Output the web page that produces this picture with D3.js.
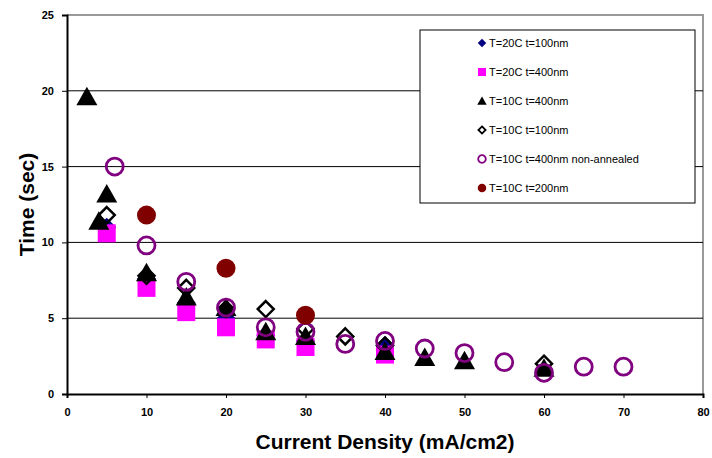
<!DOCTYPE html>
<html>
<head>
<meta charset="utf-8">
<script src="https://cdn.jsdelivr.net/npm/d3@7"></script>
<style>
  body { margin: 0; background: #fff; }
  text { font-family: "Liberation Sans", Arial, sans-serif; }
</style>
</head>
<body>
<svg id="chart" width="712" height="458"></svg>
<script>
// series data [current density, time]
const s20c100 = [[5, 11.0], [10, 7.6], [15, 6.0], [20, 5.0], [25, 3.9], [30, 3.5], [40, 3.2]];
const s20c400 = [[5, 10.6], [10, 7.0], [15, 5.4], [20, 4.4], [25, 3.6], [30, 3.1], [40, 2.6]];
const s10c400 = [[2.5, 19.6], [4, 11.4], [5, 13.2], [10, 8.0], [15, 6.4], [20, 5.7], [25, 4.1], [30, 3.8], [40, 2.8], [45, 2.4], [50, 2.2], [60, 1.7]];
const s10c100 = [[5, 11.8], [10, 7.8], [15, 7.0], [20, 5.6], [25, 5.6], [30, 4.3], [35, 3.8], [40, 3.2], [60, 2.0]];
const s10c400na = [[6, 15.0], [10, 9.8], [15, 7.4], [20, 5.7], [25, 4.4], [30, 4.1], [35, 3.3], [40, 3.5], [45, 3.0], [50, 2.7], [55, 2.1], [60, 1.4], [65, 1.8], [70, 1.8]];
const s10c200 = [[10, 11.8], [20, 8.3], [30, 5.2]];

const seriesNames = ["T=20C t=100nm", "T=20C t=400nm", "T=10C t=400nm", "T=10C t=100nm", "T=10C t=400nm non-annealed", "T=10C t=200nm"];
const xTicks = [0, 10, 20, 30, 40, 50, 60, 70, 80];
const yTicks = [0, 5, 10, 15, 20, 25];

const series = [
  { name: seriesNames[0], data: s20c100, shape: "diamond", fill: "#000080", stroke: "none" },
  { name: seriesNames[1], data: s20c400, shape: "square", fill: "#ff00ff", stroke: "none" },
  { name: seriesNames[2], data: s10c400, shape: "triangle", fill: "#000", stroke: "none" },
  { name: seriesNames[3], data: s10c100, shape: "diamond", fill: "none", stroke: "#000" },
  { name: seriesNames[4], data: s10c400na, shape: "circle", fill: "none", stroke: "#800080" },
  { name: seriesNames[5], data: s10c200, shape: "circle", fill: "#800000", stroke: "none" }
];

const svg = d3.select("#chart"),
  margin = { top: 15, right: 9, bottom: 64, left: 67 },
  width = +svg.attr("width") - margin.left - margin.right,
  height = +svg.attr("height") - margin.top - margin.bottom;

const x = d3.scaleLinear().domain([0, 80]).range([0, width]),
  y = d3.scaleLinear().domain([0, 25]).range([height, 0]);

const g = svg.append("g").attr("transform", "translate(" + margin.left + "," + margin.top + ")");

// plot area border (top / right grey)
g.append("path")
  .attr("d", "M0,0H" + width + "V" + height)
  .attr("fill", "none")
  .attr("stroke", "#999")
  .attr("stroke-width", 2);

// gridlines
g.selectAll(".grid")
  .data(yTicks.filter((d) => d > 0 && d < 25))
  .enter()
  .append("line")
  .attr("x1", 0)
  .attr("x2", width)
  .attr("y1", (d) => y(d))
  .attr("y2", (d) => y(d))
  .attr("stroke", "#000")
  .attr("stroke-width", 1);

const xAxis = g.append("g")
  .attr("transform", "translate(0," + height + ")")
  .call(d3.axisBottom(x).tickValues(xTicks).tickSize(4).tickPadding(10));
const yAxis = g.append("g")
  .call(d3.axisLeft(y).tickValues(yTicks).tickSize(5).tickPadding(8));

[xAxis, yAxis].forEach((a) => {
  a.select(".domain").attr("stroke", "#000").attr("stroke-width", 2);
  a.selectAll(".tick line").attr("stroke", "#000");
  a.selectAll("text").attr("font-size", 11).attr("font-weight", "bold").attr("fill", "#000")
    .style("font-family", "'Liberation Sans', Arial, sans-serif");
});

function symbolPath(shape, s) {
  if (shape === "diamond") return "M0," + -s + "L" + s + ",0L0," + s + "L" + -s + ",0Z";
  if (shape === "square") return "M" + -s + "," + -s + "H" + s + "V" + s + "H" + -s + "Z";
  if (shape === "triangle") return "M0," + (-s * 1.0) + "L" + s * 1.05 + "," + s * 0.85 + "L" + -s * 1.05 + "," + s * 0.85 + "Z";
  return null;
}

function drawMarker(sel, d, big) {
  const k = big ? 1 : 0.45;
  if (d.shape === "circle") {
    sel.append("circle")
      .attr("r", (d.fill === "none" ? 8.5 : 9.5) * k)
      .attr("fill", d.fill)
      .attr("stroke", d.stroke)
      .attr("stroke-width", d.fill === "none" ? (big ? 2.8 : 1.8) : 0);
  } else {
    const size = d.shape === "square" ? 9 : d.shape === "triangle" ? 10 : (d.fill === "none" ? 8 : 9.5);
    sel.append("path")
      .attr("d", symbolPath(d.shape, size * k))
      .attr("fill", d.fill)
      .attr("stroke", d.stroke)
      .attr("stroke-width", d.stroke === "none" ? 0 : (big ? 2.5 : 1.8));
  }
}

series.forEach((s) => {
  g.append("g")
    .selectAll("g")
    .data(s.data)
    .enter()
    .append("g")
    .attr("transform", (d) => "translate(" + x(d[0]) + "," + y(d[1]) + ")")
    .each(function () {
      drawMarker(d3.select(this), s, true);
    });
});

// legend
const legend = svg.append("g").attr("transform", "translate(420,30)");
legend.append("rect")
  .attr("width", 275)
  .attr("height", 173)
  .attr("fill", "#fff")
  .attr("stroke", "#000")
  .attr("stroke-width", 1);

series.forEach((s, i) => {
  const row = legend.append("g").attr("transform", "translate(62," + (13 + i * 29) + ")");
  drawMarker(row, s, false);
  row.append("text")
    .attr("x", 7)
    .attr("y", 4)
    .attr("font-size", 11)
    .text(s.name);
});

// axis titles
svg.append("text")
  .attr("transform", "translate(" + (margin.left + width / 2) + ",449)")
  .attr("text-anchor", "middle")
  .attr("font-size", 21)
  .attr("font-weight", "bold")
  .text("Current Density (mA/cm2)");

svg.append("text")
  .attr("transform", "translate(34," + (margin.top + height / 2) + ") rotate(-90)")
  .attr("text-anchor", "middle")
  .attr("font-size", 21)
  .attr("font-weight", "bold")
  .text("Time (sec)");
</script>
</body>
</html>
